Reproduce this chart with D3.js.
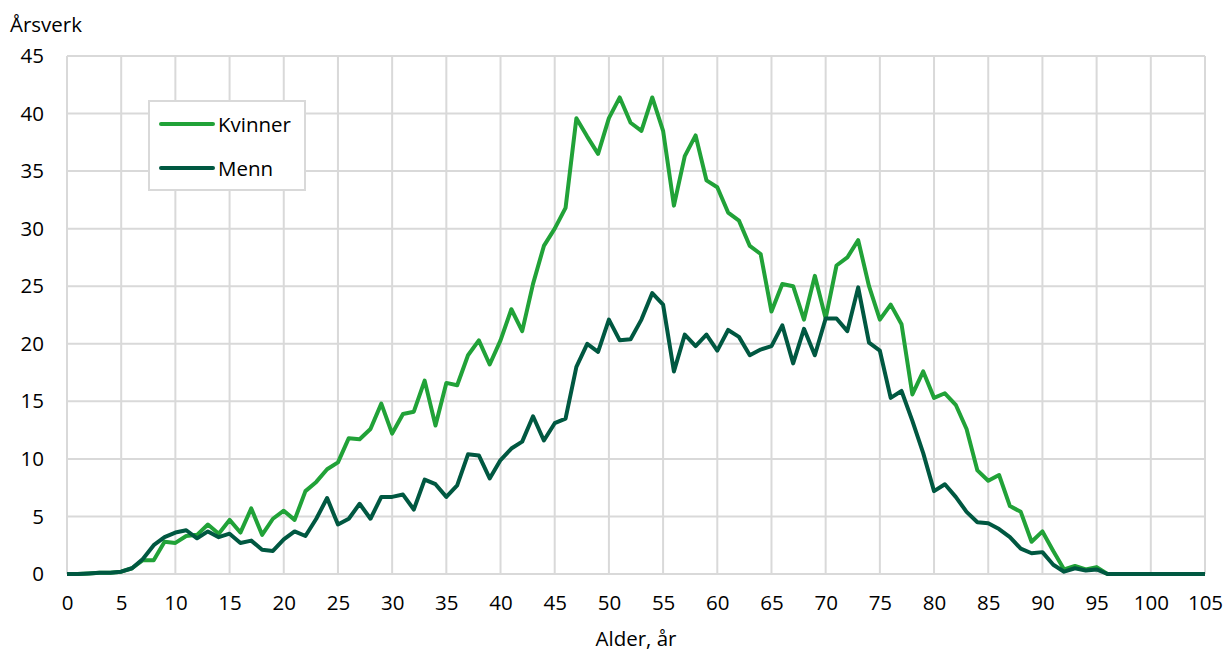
<!DOCTYPE html>
<html>
<head>
<meta charset="utf-8">
<script src="https://cdn.jsdelivr.net/npm/d3@7"></script>
<style>
  body { margin: 0; background: #fff; }
  text { font-family: "Open Sans", sans-serif; fill: #000; }
</style>
</head>
<body>
<div id="chart"></div>
<script>
// ages 0..105
var ages = d3.range(0, 106);

var kvinner = [0, 0, 0.05, 0.1, 0.1, 0.2, 0.5, 1.2, 1.2, 2.8,
  2.7, 3.3, 3.4, 4.3, 3.5, 4.7, 3.6, 5.7, 3.4, 4.8,
  5.5, 4.7, 7.2, 8.0, 9.1, 9.7, 11.8, 11.7, 12.6, 14.8,
  12.2, 13.9, 14.1, 16.8, 12.9, 16.6, 16.4, 19.0, 20.3, 18.2,
  20.3, 23.0, 21.1, 25.2, 28.5, 30.0, 31.8, 39.6, 38.0, 36.5,
  39.6, 41.4, 39.2, 38.5, 41.4, 38.5, 32.0, 36.3, 38.1, 34.2,
  33.6, 31.4, 30.7, 28.5, 27.8, 22.8, 25.2, 25.0, 22.1, 25.9,
  22.2, 26.8, 27.5, 29.0, 25.0, 22.1, 23.4, 21.7, 15.6, 17.6,
  15.3, 15.7, 14.7, 12.6, 9.0, 8.1, 8.6, 5.9, 5.4, 2.8,
  3.7, 2.0, 0.4, 0.7, 0.4, 0.6, 0, 0, 0, 0,
  0, 0, 0, 0, 0, 0];

var menn = [0, 0, 0.05, 0.1, 0.1, 0.2, 0.5, 1.3, 2.5, 3.2,
  3.6, 3.8, 3.1, 3.7, 3.2, 3.5, 2.7, 2.9, 2.1, 2.0,
  3.0, 3.7, 3.3, 4.8, 6.6, 4.3, 4.8, 6.1, 4.8, 6.7,
  6.7, 6.9, 5.6, 8.2, 7.8, 6.7, 7.7, 10.4, 10.3, 8.3,
  9.9, 10.9, 11.5, 13.7, 11.6, 13.1, 13.5, 18.0, 20.0, 19.3,
  22.1, 20.3, 20.4, 22.1, 24.4, 23.4, 17.6, 20.8, 19.8, 20.8,
  19.4, 21.2, 20.6, 19.0, 19.5, 19.8, 21.6, 18.3, 21.3, 19.0,
  22.2, 22.2, 21.1, 24.9, 20.1, 19.4, 15.3, 15.9, 13.3, 10.5,
  7.2, 7.8, 6.7, 5.4, 4.5, 4.4, 3.9, 3.2, 2.2, 1.8,
  1.9, 0.8, 0.2, 0.5, 0.3, 0.4, 0, 0, 0, 0,
  0, 0, 0, 0, 0, 0];

var xTicks = d3.range(0, 106, 5);
var yTicks = d3.range(0, 46, 5);

var seriesNames = ["Kvinner", "Menn"];
var colors = ["#21a238", "#005841"];

var svgWidth = 1226, svgHeight = 653;
var margin = { top: 56, right: 21, bottom: 79, left: 67 };
var chartWidth = svgWidth - margin.left - margin.right;
var chartHeight = svgHeight - margin.top - margin.bottom;
var fontSize = "20.5px";

var svg = d3.select("#chart").append("svg")
  .attr("width", svgWidth)
  .attr("height", svgHeight);

var chartGroup = svg.append("g")
  .attr("transform", `translate(${margin.left}, ${margin.top})`);

var xScale = d3.scaleLinear().domain([0, 105]).range([0, chartWidth]);
var yScale = d3.scaleLinear().domain([0, 45]).range([chartHeight, 0]);

// grid
chartGroup.append("g").selectAll("line.h")
  .data(yTicks).enter().append("line")
  .attr("x1", 0).attr("x2", chartWidth)
  .attr("y1", d => yScale(d)).attr("y2", d => yScale(d))
  .attr("stroke", "#d9d9d9").attr("stroke-width", 2);

chartGroup.append("g").selectAll("line.v")
  .data(xTicks).enter().append("line")
  .attr("y1", 0).attr("y2", chartHeight)
  .attr("x1", d => xScale(d)).attr("x2", d => xScale(d))
  .attr("stroke", "#d9d9d9").attr("stroke-width", 2);

// axes (labels only)
var xAxis = d3.axisBottom(xScale).tickValues(xTicks).tickSize(0).tickPadding(21);
var yAxis = d3.axisLeft(yScale).tickValues(yTicks).tickSize(0).tickPadding(23);

var gx = chartGroup.append("g")
  .attr("transform", `translate(0, ${chartHeight})`)
  .call(xAxis);
var gy = chartGroup.append("g").call(yAxis);
[gx, gy].forEach(function(g) {
  g.select(".domain").remove();
  g.selectAll("text").style("font-family", "'Open Sans', sans-serif").style("font-size", fontSize).attr("fill", "#000");
});

// lines
var line = d3.line()
  .x((d, i) => xScale(ages[i]))
  .y(d => yScale(d));

[kvinner, menn].forEach(function(data, k) {
  chartGroup.append("path")
    .datum(data)
    .attr("fill", "none")
    .attr("stroke", colors[k])
    .attr("stroke-width", 4)
    .attr("stroke-linejoin", "round")
    .attr("d", line);
});

// titles
svg.append("text").attr("x", 10).attr("y", 32)
  .style("font-size", fontSize).text("Årsverk");
svg.append("text").attr("x", margin.left + chartWidth / 2).attr("y", 646)
  .attr("text-anchor", "middle").style("font-size", fontSize).text("Alder, år");

// legend
var legend = svg.append("g").attr("transform", "translate(149, 101)");
legend.append("rect").attr("width", 156).attr("height", 89)
  .attr("fill", "#fff").attr("stroke", "#d9d9d9").attr("stroke-width", 2);
seriesNames.forEach(function(name, i) {
  var y = 23 + i * 44;
  legend.append("line").attr("x1", 12).attr("x2", 64).attr("y1", y).attr("y2", y)
    .attr("stroke", colors[i]).attr("stroke-width", 4).attr("stroke-linecap", "round");
  legend.append("text").attr("x", 69).attr("y", y + 7.5)
    .style("font-size", fontSize).text(name);
});
</script>
</body>
</html>
